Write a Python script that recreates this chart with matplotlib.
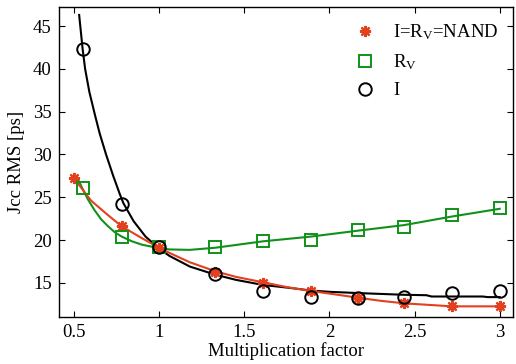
import matplotlib
matplotlib.use("Agg")
import matplotlib.pyplot as plt

plt.rcParams['font.family'] = ['Liberation Serif', 'DejaVu Serif']
plt.rcParams['mathtext.fontset'] = 'custom'
plt.rcParams['mathtext.rm'] = 'Liberation Serif'
plt.rcParams['mathtext.it'] = 'Liberation Serif:italic'

# mesures (points)
x_nand = [0.5, 0.78, 1.0, 1.33, 1.61, 1.89, 2.17, 2.44, 2.72, 3.0]
y_nand = [27.2, 21.6, 19.1, 16.25, 15.0, 14.0, 13.2, 12.6, 12.3, 12.25]

x_rv = [0.55, 0.78, 1.0, 1.33, 1.61, 1.89, 2.17, 2.44, 2.72, 3.0]
y_rv = [26.05, 20.3, 19.15, 19.15, 19.85, 20.0, 21.2, 21.5, 22.9, 23.7]

x_i = [0.55, 0.78, 1.0, 1.33, 1.61, 1.89, 2.17, 2.44, 2.72, 3.0]
y_i = [42.3, 24.2, 19.2, 16.05, 14.05, 13.35, 13.2, 13.4, 13.8, 14.1]

# courbes d'ajustement
fit_x_nand = [0.5, 0.55, 0.6, 0.7, 0.78, 0.9, 1.0, 1.06, 1.18, 1.33, 1.45, 1.6, 1.75, 1.89, 2.05, 2.17, 2.3, 2.44, 2.6, 2.72, 2.86, 3.0]
fit_y_nand = [27.2, 25.9, 24.6, 22.9, 21.6, 20.2, 19.1, 18.5, 17.4, 16.35, 15.7, 15.1, 14.5, 14.05, 13.6, 13.25, 12.9, 12.6, 12.4, 12.25, 12.25, 12.25]

fit_x_rv = [0.525, 0.55, 0.58, 0.62, 0.66, 0.7, 0.74, 0.78, 0.84, 0.9, 1.0, 1.06, 1.18, 1.33, 1.61, 1.89, 2.17, 2.44, 2.72, 3.0]
fit_y_rv = [27.0, 26.0, 24.8, 23.5, 22.4, 21.6, 20.9, 20.4, 19.85, 19.45, 19.05, 18.9, 18.85, 19.1, 19.85, 20.4, 21.1, 21.75, 22.75, 23.65]

fit_x_i = [0.53, 0.55, 0.565, 0.59, 0.623, 0.65, 0.688, 0.73, 0.77, 0.79, 0.85, 0.92, 1.0, 1.06, 1.18, 1.33, 1.45, 1.53, 1.61, 1.77, 1.89, 2.0, 2.17, 2.44, 2.57, 2.6, 2.9, 2.93, 3.0]
fit_y_i = [46.3, 42.4, 40.0, 37.3, 34.6, 32.5, 30.0, 27.5, 25.3, 24.3, 22.2, 20.4, 19.0, 18.15, 16.9, 15.95, 15.35, 15.05, 14.75, 14.4, 14.1, 13.95, 13.8, 13.6, 13.55, 13.4, 13.4, 13.33, 13.33]

rouge = '#e2401e'
vert = '#11911a'

fig = plt.figure(figsize=(5.16, 3.64), dpi=100)
ax = fig.add_axes([0.1138, 0.129, 0.881, 0.851])

ax.plot(fit_x_i, fit_y_i, color='black', linewidth=1.5)
ax.plot(fit_x_rv, fit_y_rv, color=vert, linewidth=1.5)
ax.plot(fit_x_nand, fit_y_nand, color=rouge, linewidth=1.5)

ax.plot(x_nand, y_nand, linestyle='none', marker=(8, 2, 0), markersize=8,
        markeredgewidth=1.6, color=rouge, label=r'I=R$_\mathrm{V}$=NAND')
ax.plot(x_rv, y_rv, linestyle='none', marker='s', markersize=8,
        markerfacecolor='none', markeredgewidth=1.4, color=vert, label=r'R$_\mathrm{V}$')
ax.plot(x_i, y_i, linestyle='none', marker='o', markersize=9,
        markerfacecolor='none', markeredgewidth=1.4, color='black', label='I')

ax.set_xlim(0.41, 3.08)
ax.set_ylim(11, 47.2)
ax.set_xticks([0.5, 1, 1.5, 2, 2.5, 3])
ax.set_xticklabels(['0.5', '1', '1.5', '2', '2.5', '3'])
ax.set_yticks([15, 20, 25, 30, 35, 40, 45])
ax.tick_params(direction='in', top=True, right=True, length=4, width=0.8,
               labelsize=13.5, pad=5)
for s in ax.spines.values():
    s.set_linewidth(1.0)

ax.set_xlabel('Multiplication factor', fontsize=13.5, labelpad=1)
ax.set_ylabel('Jcc RMS [ps]', fontsize=13.5, labelpad=6)

leg = ax.legend(loc='upper right', frameon=False, fontsize=13.5, handlelength=1.2,
                handletextpad=0.9, labelspacing=0.55, borderaxespad=0.4)

fig.savefig('out.png', dpi=100)
